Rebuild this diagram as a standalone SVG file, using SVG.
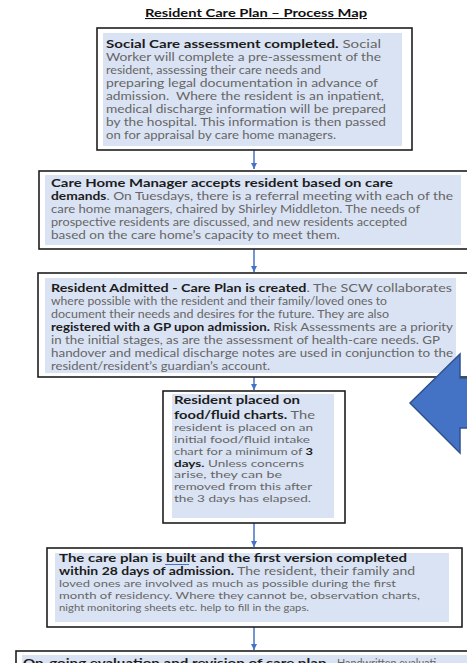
<svg xmlns="http://www.w3.org/2000/svg" width="467" height="663" viewBox="0 0 467 663">
<style>
.t{font-family:Lato,"Liberation Sans",sans-serif;font-size:10.8px;fill:#666666}
.s{font-size:9.6px}
.m{font-size:10px}
.k{font-weight:bold;fill:#1c1c1c}
.box{fill:#ffffff;stroke:#1e1e1e;stroke-width:1.6}
.bg{fill:#dae3f3}
.conn{stroke:#4472c4;stroke-width:1.5;fill:none;marker-end:url(#ah)}
.title{font-family:Lato,"Liberation Sans",sans-serif;font-size:10.8px;font-weight:bold;fill:#111;text-decoration:underline}
</style>
<defs>
<marker id="ah" markerUnits="userSpaceOnUse" markerWidth="7" markerHeight="6" refX="6" refY="3" orient="auto">
<path d="M0,0 L6,3 L0,6 z" fill="#4472c4"/>
</marker>
</defs>
<rect width="467" height="663" fill="#ffffff"/>
<text class="title" x="256" y="17" text-anchor="middle" textLength="222" lengthAdjust="spacingAndGlyphs">Resident Care Plan – Process Map</text>

<g id="connectors">
<line class="conn" x1="254" y1="150" x2="254" y2="169"/>
<line class="conn" x1="254" y1="249" x2="254" y2="272"/>
<line class="conn" x1="254" y1="377" x2="254" y2="390"/>
<line class="conn" x1="254" y1="523" x2="254" y2="547"/>
<line class="conn" x1="254" y1="627" x2="254" y2="650"/>
</g>

<g id="social-care-assessment">
<rect class="box" x="97" y="28" width="315" height="122"/>
<rect class="bg" x="103" y="33" width="299" height="113"/>
<text class="t" x="106" y="48" textLength="275" lengthAdjust="spacingAndGlyphs"><tspan class="k">Social Care assessment completed.</tspan> Social</text>
<text class="t" x="106" y="61" textLength="275" lengthAdjust="spacingAndGlyphs">Worker will complete a pre-assessment of the</text>
<text class="t" x="106" y="74" textLength="215" lengthAdjust="spacingAndGlyphs">resident, assessing their care needs and</text>
<text class="t" x="106" y="87" textLength="272" lengthAdjust="spacingAndGlyphs">preparing legal documentation in advance of</text>
<text class="t" x="106" y="100" textLength="278" lengthAdjust="spacingAndGlyphs">admission. &#160;Where the resident is an inpatient,</text>
<text class="t" x="106" y="113" textLength="280" lengthAdjust="spacingAndGlyphs">medical discharge information will be prepared</text>
<text class="t" x="106" y="126" textLength="280" lengthAdjust="spacingAndGlyphs">by the hospital. This information is then passed</text>
<text class="t" x="106" y="139" textLength="230" lengthAdjust="spacingAndGlyphs">on for appraisal by care home managers.</text>
</g>

<g id="manager-accepts">
<rect class="box" x="39" y="171" width="440" height="78"/>
<rect class="bg" x="45" y="175" width="416" height="70"/>
<text class="t" x="51" y="187" textLength="342" lengthAdjust="spacingAndGlyphs"><tspan class="k">Care Home Manager accepts resident based on care</tspan></text>
<text class="t" x="51" y="200" textLength="402" lengthAdjust="spacingAndGlyphs"><tspan class="k">demands</tspan>. On Tuesdays, there is a referral meeting with each of the</text>
<text class="t" x="51" y="213" textLength="369" lengthAdjust="spacingAndGlyphs">care home managers, chaired by Shirley Middleton. The needs of</text>
<text class="t" x="51" y="226" textLength="356" lengthAdjust="spacingAndGlyphs">prospective residents are discussed, and new residents accepted</text>
<text class="t" x="51" y="239" textLength="289" lengthAdjust="spacingAndGlyphs">based on the care home’s capacity to meet them.</text>
</g>

<g id="resident-admitted">
<rect class="box" x="38" y="273" width="442" height="104"/>
<rect class="bg" x="45" y="278" width="411" height="95"/>
<text class="t" x="51" y="292" textLength="401" lengthAdjust="spacingAndGlyphs"><tspan class="k">Resident Admitted - Care Plan is created</tspan>. The SCW collaborates</text>
<text class="t" x="51" y="305" textLength="336" lengthAdjust="spacingAndGlyphs">where possible with the resident and their family/loved ones to</text>
<text class="t" x="51" y="318" textLength="338" lengthAdjust="spacingAndGlyphs">document their needs and desires for the future. They are also</text>
<text class="t" x="51" y="331" textLength="402" lengthAdjust="spacingAndGlyphs"><tspan class="k">registered with a GP upon admission.</tspan> Risk Assessments are a priority</text>
<text class="t" x="51" y="344" textLength="389" lengthAdjust="spacingAndGlyphs">in the initial stages, as are the assessment of health-care needs. GP</text>
<text class="t" x="51" y="357" textLength="402" lengthAdjust="spacingAndGlyphs">handover and medical discharge notes are used in conjunction to the</text>
<text class="t" x="51" y="370" textLength="219" lengthAdjust="spacingAndGlyphs">resident/resident’s guardian’s account.</text>
</g>

<g id="food-fluid-charts">
<rect class="box" x="163" y="391" width="182" height="132"/>
<rect class="bg" x="172" y="394" width="162" height="124"/>
<text class="t" x="174" y="404" textLength="126" lengthAdjust="spacingAndGlyphs"><tspan class="k">Resident placed on</tspan></text>
<text class="t" x="174" y="419" textLength="141" lengthAdjust="spacingAndGlyphs"><tspan class="k">food/fluid charts.</tspan> The</text>
<text class="t s" x="174" y="431" textLength="139" lengthAdjust="spacingAndGlyphs">resident is placed on an</text>
<text class="t s" x="174" y="443" textLength="136" lengthAdjust="spacingAndGlyphs">initial food/fluid intake</text>
<text class="t s" x="174" y="455" textLength="139" lengthAdjust="spacingAndGlyphs">chart for a minimum of <tspan class="k">3</tspan></text>
<text class="t s" x="174" y="466.5" textLength="130" lengthAdjust="spacingAndGlyphs"><tspan class="k">days.</tspan> Unless concerns</text>
<text class="t s" x="174" y="478" textLength="108" lengthAdjust="spacingAndGlyphs">arise, they can be</text>
<text class="t s" x="174" y="490" textLength="138" lengthAdjust="spacingAndGlyphs">removed from this after</text>
<text class="t s" x="174" y="502" textLength="137" lengthAdjust="spacingAndGlyphs">the 3 days has elapsed.</text>
</g>

<g id="care-plan-built">
<rect class="box" x="47" y="548" width="415" height="79"/>
<rect class="bg" x="55" y="553" width="394" height="69"/>
<text class="t" x="59" y="562" textLength="348" lengthAdjust="spacingAndGlyphs"><tspan class="k">The care plan is built and the first version completed</tspan></text>
<line x1="165" y1="564.5" x2="189" y2="564.5" stroke="#4472c4" stroke-width="1"/>
<text class="t" x="59" y="575" textLength="356" lengthAdjust="spacingAndGlyphs"><tspan class="k">within 28 days of admission.</tspan> The resident, their family and</text>
<text class="t m" x="59" y="587" textLength="337" lengthAdjust="spacingAndGlyphs">loved ones are involved as much as possible during the first</text>
<text class="t m" x="59" y="599" textLength="361" lengthAdjust="spacingAndGlyphs">month of residency. Where they cannot be, observation charts,</text>
<text class="t m" x="59" y="611" textLength="250" lengthAdjust="spacingAndGlyphs">night monitoring sheets etc. help to fill in the gaps.</text>
</g>

<g id="ongoing-evaluation">
<rect class="box" x="16" y="651" width="470" height="40"/>
<rect class="bg" x="22" y="655" width="460" height="30"/>
<text class="t k" x="23" y="667" textLength="307" lengthAdjust="spacingAndGlyphs">On-going evaluation and revision of care plan.</text>
<text class="t" x="337" y="667">Handwritten evaluati</text>
</g>

<g id="big-arrow">
<path d="M410,403 L460,354 L460,378 L475,378 L475,428 L460,428 L460,453 Z" fill="#4472c4" stroke="#2f528f" stroke-width="1.5"/>
</g>
</svg>
